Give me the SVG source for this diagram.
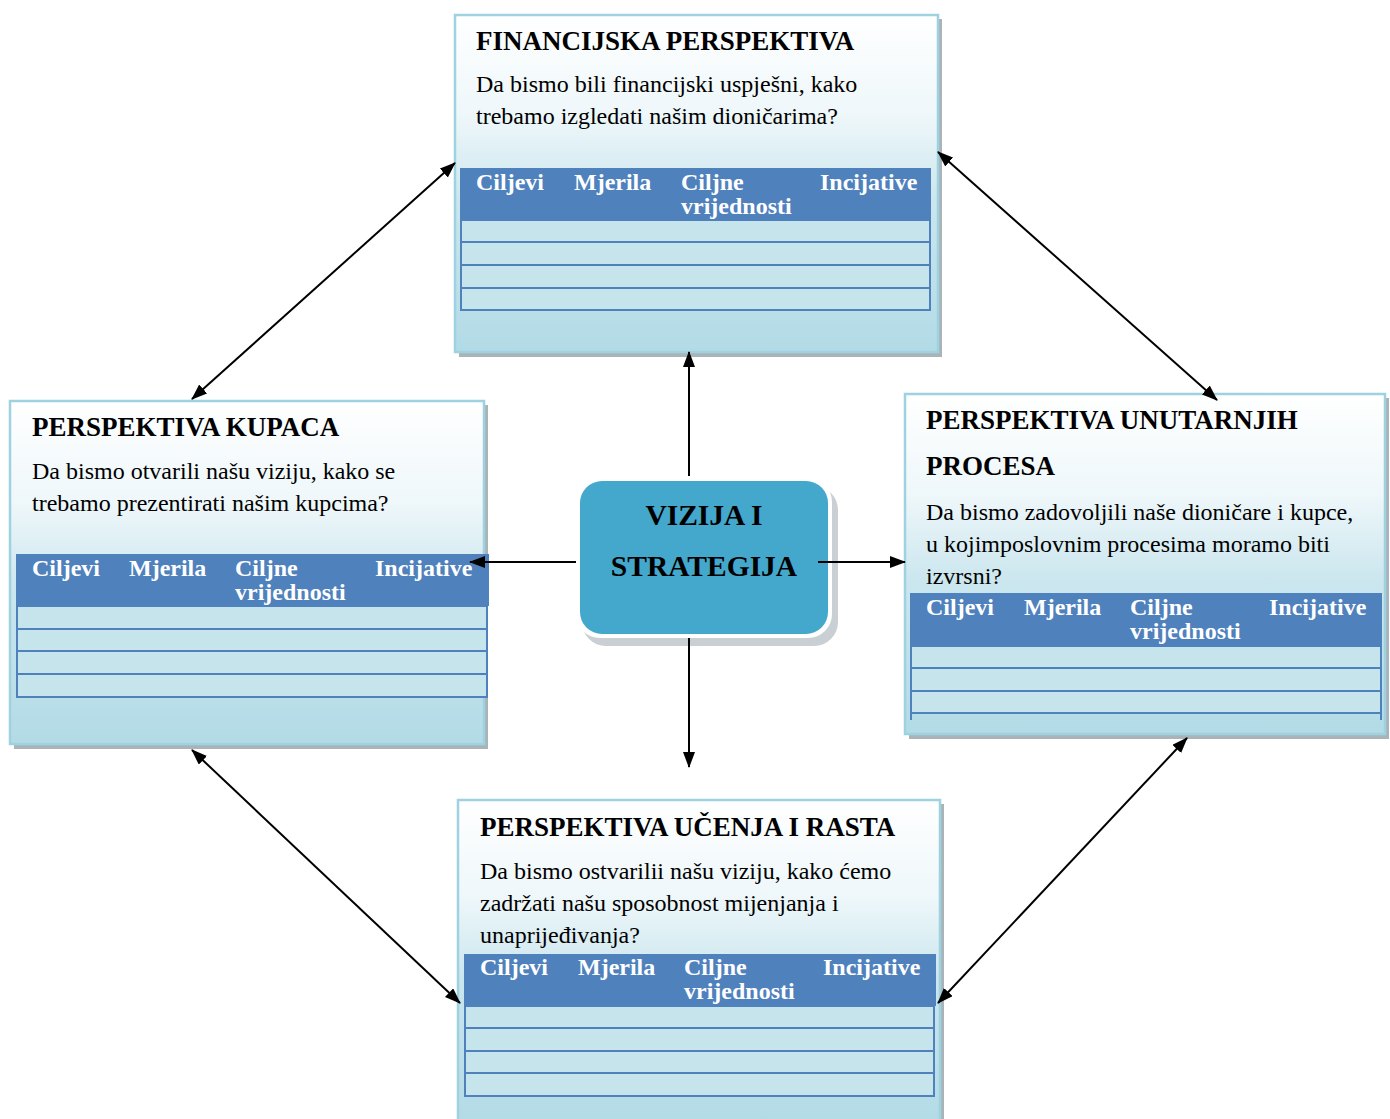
<svg xmlns="http://www.w3.org/2000/svg" width="1390" height="1119" viewBox="0 0 1390 1119">
<style>
.box{stroke:#9fd2e0;stroke-width:2.5;fill:url(#g)}
.sh{fill:#a9b4b8}
.hd{fill:#4f81bd}
.row{fill:#c6e4ec;stroke:#4f81bd;stroke-width:2}
.t{font-family:"Liberation Serif",serif;font-weight:bold;font-size:27px;fill:#000}
.b{font-family:"Liberation Serif",serif;font-size:24px;fill:#000}
.h{font-family:"Liberation Serif",serif;font-weight:bold;font-size:24px;fill:#fff}
.c{font-family:"Liberation Serif",serif;font-weight:bold;font-size:29.5px;fill:#000;text-anchor:middle}
.ln{stroke:#000;stroke-width:2;fill:none}
</style>
<defs>
<linearGradient id="g" x1="0" y1="0" x2="0" y2="1">
<stop offset="0" stop-color="#ffffff"/>
<stop offset="0.3" stop-color="#eef7fa"/>
<stop offset="0.55" stop-color="#cbe6ee"/>
<stop offset="1" stop-color="#b2dbe6"/>
</linearGradient>
<marker id="a" markerWidth="16" markerHeight="12" refX="15" refY="6" orient="auto-start-reverse" markerUnits="userSpaceOnUse">
<path d="M0,0 L16,6 L0,12 Z" fill="#000"/>
</marker>
</defs>
<rect width="1390" height="1119" fill="#fff"/>

<g id="fin">
<rect class="sh" x="459" y="19" width="483" height="338"/>
<rect class="box" x="455" y="15" width="483" height="337"/>
<rect class="hd" x="460" y="168" width="471" height="52"/>
<rect class="row" x="461" y="220" width="469" height="22"/>
<rect class="row" x="461" y="242" width="469" height="23"/>
<rect class="row" x="461" y="265" width="469" height="23"/>
<rect class="row" x="461" y="288" width="469" height="22"/>
<text class="t" x="476" y="50">FINANCIJSKA PERSPEKTIVA</text>
<text class="b" x="476" y="92">Da bismo bili financijski uspješni, kako</text>
<text class="b" x="476" y="124">trebamo izgledati našim dioničarima?</text>
<text class="h" x="476" y="190">Ciljevi</text>
<text class="h" x="574" y="190">Mjerila</text>
<text class="h" x="681" y="190">Ciljne</text>
<text class="h" x="681" y="214">vrijednosti</text>
<text class="h" x="820" y="190">Incijative</text>
</g>

<g id="kup">
<rect class="sh" x="14" y="405" width="474" height="344"/>
<rect class="box" x="10" y="401" width="474" height="343"/>
<rect class="hd" x="16" y="554" width="473" height="52"/>
<rect class="row" x="17" y="606" width="470" height="23"/>
<rect class="row" x="17" y="629" width="470" height="22"/>
<rect class="row" x="17" y="651" width="470" height="23"/>
<rect class="row" x="17" y="674" width="470" height="23"/>
<text class="t" x="32" y="436">PERSPEKTIVA KUPACA</text>
<text class="b" x="32" y="479">Da bismo otvarili našu viziju, kako se</text>
<text class="b" x="32" y="511">trebamo prezentirati našim kupcima?</text>
<text class="h" x="32" y="576">Ciljevi</text>
<text class="h" x="129" y="576">Mjerila</text>
<text class="h" x="235" y="576">Ciljne</text>
<text class="h" x="235" y="600">vrijednosti</text>
<text class="h" x="375" y="576">Incijative</text>
</g>

<g id="unu">
<rect class="sh" x="909" y="398" width="480" height="341"/>
<rect class="box" x="905" y="394" width="480" height="340"/>
<rect class="hd" x="910" y="593" width="472" height="53"/>
<rect class="row" x="911" y="646" width="470" height="22"/>
<rect class="row" x="911" y="668" width="470" height="23"/>
<rect class="row" x="911" y="691" width="470" height="22"/>
<path d="M911,713 V720 M1381,713 V720" stroke="#4f81bd" stroke-width="2"/>
<text class="t" x="926" y="429">PERSPEKTIVA UNUTARNJIH</text>
<text class="t" x="926" y="475">PROCESA</text>
<text class="b" x="926" y="520">Da bismo zadovoljili naše dioničare i kupce,</text>
<text class="b" x="926" y="552">u kojimposlovnim procesima moramo biti</text>
<text class="b" x="926" y="584">izvrsni?</text>
<text class="h" x="926" y="615">Ciljevi</text>
<text class="h" x="1024" y="615">Mjerila</text>
<text class="h" x="1130" y="615">Ciljne</text>
<text class="h" x="1130" y="639">vrijednosti</text>
<text class="h" x="1269" y="615">Incijative</text>
</g>

<g id="uce">
<rect class="sh" x="462" y="804" width="482" height="320"/>
<rect class="box" x="458" y="800" width="482" height="325"/>
<rect class="hd" x="464" y="954" width="472" height="52"/>
<rect class="row" x="465" y="1006" width="469" height="22"/>
<rect class="row" x="465" y="1028" width="469" height="23"/>
<rect class="row" x="465" y="1051" width="469" height="22"/>
<rect class="row" x="465" y="1073" width="469" height="23"/>
<text class="t" x="480" y="836">PERSPEKTIVA UČENJA I RASTA</text>
<text class="b" x="480" y="879">Da bismo ostvarilii našu viziju, kako ćemo</text>
<text class="b" x="480" y="911">zadržati našu sposobnost mijenjanja i</text>
<text class="b" x="480" y="943">unaprijeđivanja?</text>
<text class="h" x="480" y="975">Ciljevi</text>
<text class="h" x="578" y="975">Mjerila</text>
<text class="h" x="684" y="975">Ciljne</text>
<text class="h" x="684" y="999">vrijednosti</text>
<text class="h" x="823" y="975">Incijative</text>
</g>

<g id="viz">
<rect x="582" y="486" width="256" height="160" rx="24" fill="#c9cfd2"/>
<rect x="576" y="478" width="256" height="160" rx="24" fill="#ffffff"/>
<rect x="580" y="481" width="248" height="153" rx="22" fill="#43a8cb"/>
<text class="c" x="704" y="525">VIZIJA I</text>
<text class="c" x="704" y="576">STRATEGIJA</text>
</g>

<g id="connectors">
<line class="ln" x1="689" y1="476" x2="689" y2="352" marker-end="url(#a)"/>
<line class="ln" x1="689" y1="638" x2="689" y2="767" marker-end="url(#a)"/>
<line class="ln" x1="576" y1="562" x2="470" y2="562" marker-end="url(#a)"/>
<line class="ln" x1="818" y1="562" x2="905" y2="562" marker-end="url(#a)"/>
<line class="ln" x1="455" y1="163" x2="192" y2="399" marker-start="url(#a)" marker-end="url(#a)"/>
<line class="ln" x1="938" y1="152" x2="1217" y2="400" marker-start="url(#a)" marker-end="url(#a)"/>
<line class="ln" x1="192" y1="750" x2="460" y2="1003" marker-start="url(#a)" marker-end="url(#a)"/>
<line class="ln" x1="1187" y1="738" x2="938" y2="1003" marker-start="url(#a)" marker-end="url(#a)"/>
</g>
</svg>
